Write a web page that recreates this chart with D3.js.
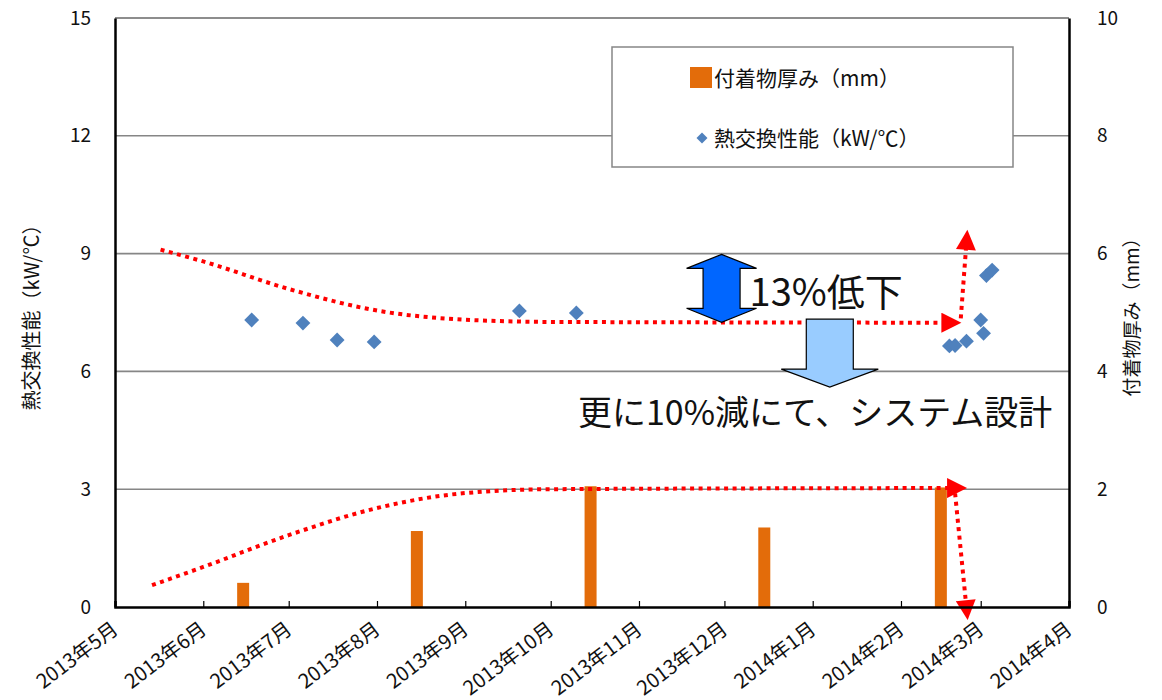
<!DOCTYPE html>
<html><head><meta charset="utf-8">
<script src="https://cdn.jsdelivr.net/npm/d3@7"></script>
<style>
body{margin:0;background:#fff}
text{font-family:"Noto Sans CJK JP","Noto Sans",sans-serif;fill:#111}
</style>
</head><body>
<svg id="c" width="1162" height="700"></svg>
<script>
// ---------- data ----------
const monthTicks = ["2013-05-01","2013-06-01","2013-07-01","2013-08-01","2013-09-01","2013-10-01","2013-11-01","2013-12-01","2014-01-01","2014-02-01","2014-03-01","2014-04-01"];
const monthLabels = ["2013年5月","2013年6月","2013年7月","2013年8月","2013年9月","2013年10月","2013年11月","2013年12月","2014年1月","2014年2月","2014年3月","2014年4月"];
const leftTicks = [0,3,6,9,12,15];
const rightTicks = [0,2,4,6,8,10];

const barDates = ["2013-06-15","2013-08-15","2013-10-15","2013-12-15","2014-02-15"];
const barValues = [0.41,1.29,2.05,1.35,2.03];

const perfDates = ["2013-06-18","2013-07-06","2013-07-18","2013-07-31","2013-09-20","2013-10-10","2014-02-18","2014-02-20","2014-02-24","2014-03-01","2014-03-02","2014-03-03","2014-03-05"];
const perfValues = [7.31,7.23,6.80,6.75,7.54,7.49,6.65,6.66,6.77,7.31,6.97,8.44,8.58];

// trend annotations (red dotted arrows)
const perfTrendDates = ["2013-05-17","2013-06-01","2013-07-01","2013-08-01","2013-08-31","2013-10-01","2014-02-18"];
const perfTrendValues = [9.1,8.8,8.1,7.55,7.32,7.26,7.24];
const perfRiseDates = ["2014-02-22","2014-02-24"];
const perfRiseValues = [7.35,9.3];
const thickTrendDates = ["2013-05-14","2013-06-01","2013-07-01","2013-08-01","2013-08-31","2013-10-01","2014-02-20"];
const thickTrendValues = [0.37,0.68,1.22,1.68,1.93,2.0,2.02];
const thickDropDates = ["2014-02-20","2014-02-24"];
const thickDropValues = [1.93,-0.02];

const seriesNames = ["付着物厚み（mm）","熱交換性能（kW/℃）"];
const leftTitle = "熱交換性能（kW/℃）";
const rightTitle = "付着物厚み（mm）";
const note1 = "13%低下";
const note2 = "更に10%減にて、システム設計";
const note1Arrow = {date:"2013-11-30", from:8.98, to:7.25};
const note2Arrow = {date:"2014-01-07", from:7.33, to:5.6};

// ---------- chart ----------
const W=1162,H=700;
const m={l:115,r:93,t:18,b:93};
const parse=d3.timeParse("%Y-%m-%d");
const svg=d3.select("#c");
const x=d3.scaleTime().domain([parse(monthTicks[0]),parse(monthTicks[monthTicks.length-1])]).range([m.l,W-m.r]);
const yL=d3.scaleLinear().domain([0,15]).range([H-m.b,m.t]);
const yR=d3.scaleLinear().domain([0,10]).range([H-m.b,m.t]);

// gridlines
svg.append("g").selectAll("line").data(leftTicks.filter(d=>d>0)).join("line")
  .attr("x1",m.l).attr("x2",W-m.r).attr("y1",d=>yL(d)).attr("y2",d=>yL(d))
  .attr("stroke","#868686").attr("stroke-width",1.6);

// bars
const bw=12;
svg.append("g").selectAll("rect").data(barDates.map((d,i)=>({d:parse(d),v:barValues[i]}))).join("rect")
  .attr("x",d=>x(d.d)-bw/2).attr("width",bw)
  .attr("y",d=>yR(d.v)).attr("height",d=>yR(0)-yR(d.v))
  .attr("fill","#e36c0a");

// trend lines
const defs=svg.append("defs");
defs.append("marker").attr("id","ah").attr("viewBox","0 0 10 10").attr("refX",4).attr("refY",5)
  .attr("markerWidth",5.5).attr("markerHeight",5).attr("orient","auto").attr("markerUnits","strokeWidth")
  .append("path").attr("d","M0,0L10,5L0,10Z").attr("fill","#ff0000");
const line=d3.line().curve(d3.curveMonotoneX);
const lineS=d3.line();
function trend(dates,vals,ys,gen){
  svg.append("path").attr("d",gen(dates.map((d,i)=>[x(parse(d)),ys(vals[i])])))
    .attr("fill","none").attr("stroke","#ff0000").attr("stroke-width",4)
    .attr("stroke-dasharray","4 4.5").attr("marker-end","url(#ah)");
}
trend(perfTrendDates,perfTrendValues,yL,line);
trend(perfRiseDates,perfRiseValues,yL,lineS);
trend(thickTrendDates,thickTrendValues,yR,line);
trend(thickDropDates,thickDropValues,yR,lineS);

// scatter diamonds
const diamond=d3.symbol(d3.symbolSquare,110);
svg.append("g").selectAll("path").data(perfDates.map((d,i)=>({d:parse(d),v:perfValues[i]}))).join("path")
  .attr("d",diamond).attr("transform",d=>`translate(${x(d.d)},${yL(d.v)}) rotate(45)`)
  .attr("fill","#4f81bd");

// frame / axes
svg.append("line").attr("x1",m.l).attr("x2",W-m.r).attr("y1",m.t).attr("y2",m.t).attr("stroke","#868686").attr("stroke-width",1.6);
const axL=svg.append("g").attr("transform",`translate(${m.l},0)`).call(d3.axisLeft(yL).tickValues(leftTicks).tickSize(0).tickPadding(24));
const axR=svg.append("g").attr("transform",`translate(${W-m.r},0)`).call(d3.axisRight(yR).tickValues(rightTicks).tickSize(0).tickPadding(28));
const axB=svg.append("g").attr("transform",`translate(0,${H-m.b})`).call(d3.axisBottom(x).tickValues(monthTicks.map(parse)).tickSize(-6).tickFormat((d,i)=>monthLabels[i]));
[axL,axR,axB].forEach(a=>{a.select(".domain").attr("stroke","#000").attr("stroke-width",2.5);a.selectAll(".tick line").attr("stroke","#000").attr("stroke-width",1.2);});
axL.selectAll("text").attr("font-family","DejaVu Sans").attr("font-size",19).attr("fill","#222");
axR.selectAll("text").attr("font-family","DejaVu Sans").attr("font-size",19).attr("fill","#222").attr("text-anchor","start");
axB.selectAll("text").attr("font-size",20).attr("fill","#111").attr("text-anchor","end")
  .attr("dy",null).attr("y",null)
  .attr("transform","translate(4,25) rotate(-37)");

// axis titles
svg.append("text").attr("transform",`translate(39,${(m.t+H-m.b)/2}) rotate(-90)`).attr("text-anchor","middle").attr("font-size",20).text(leftTitle);
svg.append("text").attr("transform",`translate(1139,${(m.t+H-m.b)/2}) rotate(-90)`).attr("text-anchor","middle").attr("font-size",19).text(rightTitle);

// annotation arrows
function doubleArrow(cx,yt,yb,hw,sw,hh,fill){
  const p=d3.path();
  p.moveTo(cx,yt);p.lineTo(cx+hw/2,yt+hh);p.lineTo(cx+sw/2,yt+hh);p.lineTo(cx+sw/2,yb-hh);p.lineTo(cx+hw/2,yb-hh);
  p.lineTo(cx,yb);p.lineTo(cx-hw/2,yb-hh);p.lineTo(cx-sw/2,yb-hh);p.lineTo(cx-sw/2,yt+hh);p.lineTo(cx-hw/2,yt+hh);p.closePath();
  svg.append("path").attr("d",p.toString()).attr("fill",fill).attr("stroke","#000").attr("stroke-width",1.2);
}
function downArrow(cx,yt,yb,hw,sw,hh,fill){
  const p=d3.path();
  p.moveTo(cx-sw/2,yt);p.lineTo(cx+sw/2,yt);p.lineTo(cx+sw/2,yb-hh);p.lineTo(cx+hw/2,yb-hh);p.lineTo(cx,yb);
  p.lineTo(cx-hw/2,yb-hh);p.lineTo(cx-sw/2,yb-hh);p.closePath();
  svg.append("path").attr("d",p.toString()).attr("fill",fill).attr("stroke","#000").attr("stroke-width",1.2);
}
doubleArrow(x(parse(note1Arrow.date)),yL(note1Arrow.from),yL(note1Arrow.to),70,37,14,"#0066ff");
downArrow(x(parse(note2Arrow.date)),yL(note2Arrow.from),yL(note2Arrow.to),97,47,18,"#99ccff");
svg.append("text").attr("x",x(parse(note1Arrow.date))+28).attr("y",yL(8.0)+13).attr("font-size",38).text(note1);
svg.append("text").attr("x",578).attr("y",yL(5)+14).attr("font-size",34).text(note2);

// legend
const lg=svg.append("g");
lg.append("rect").attr("x",612).attr("y",47).attr("width",401).attr("height",120).attr("fill","#fff").attr("stroke","#868686").attr("stroke-width",1.5);
lg.append("rect").attr("x",690).attr("y",67).attr("width",22).attr("height",21).attr("fill","#e36c0a");
lg.append("path").attr("d",d3.symbol(d3.symbolSquare,60)).attr("transform","translate(702,138) rotate(45)").attr("fill","#4f81bd");
lg.append("text").attr("x",714).attr("y",86).attr("font-size",21).text(seriesNames[0]);
lg.append("text").attr("x",714).attr("y",146).attr("font-size",21).text(seriesNames[1]);
</script>
</body></html>
